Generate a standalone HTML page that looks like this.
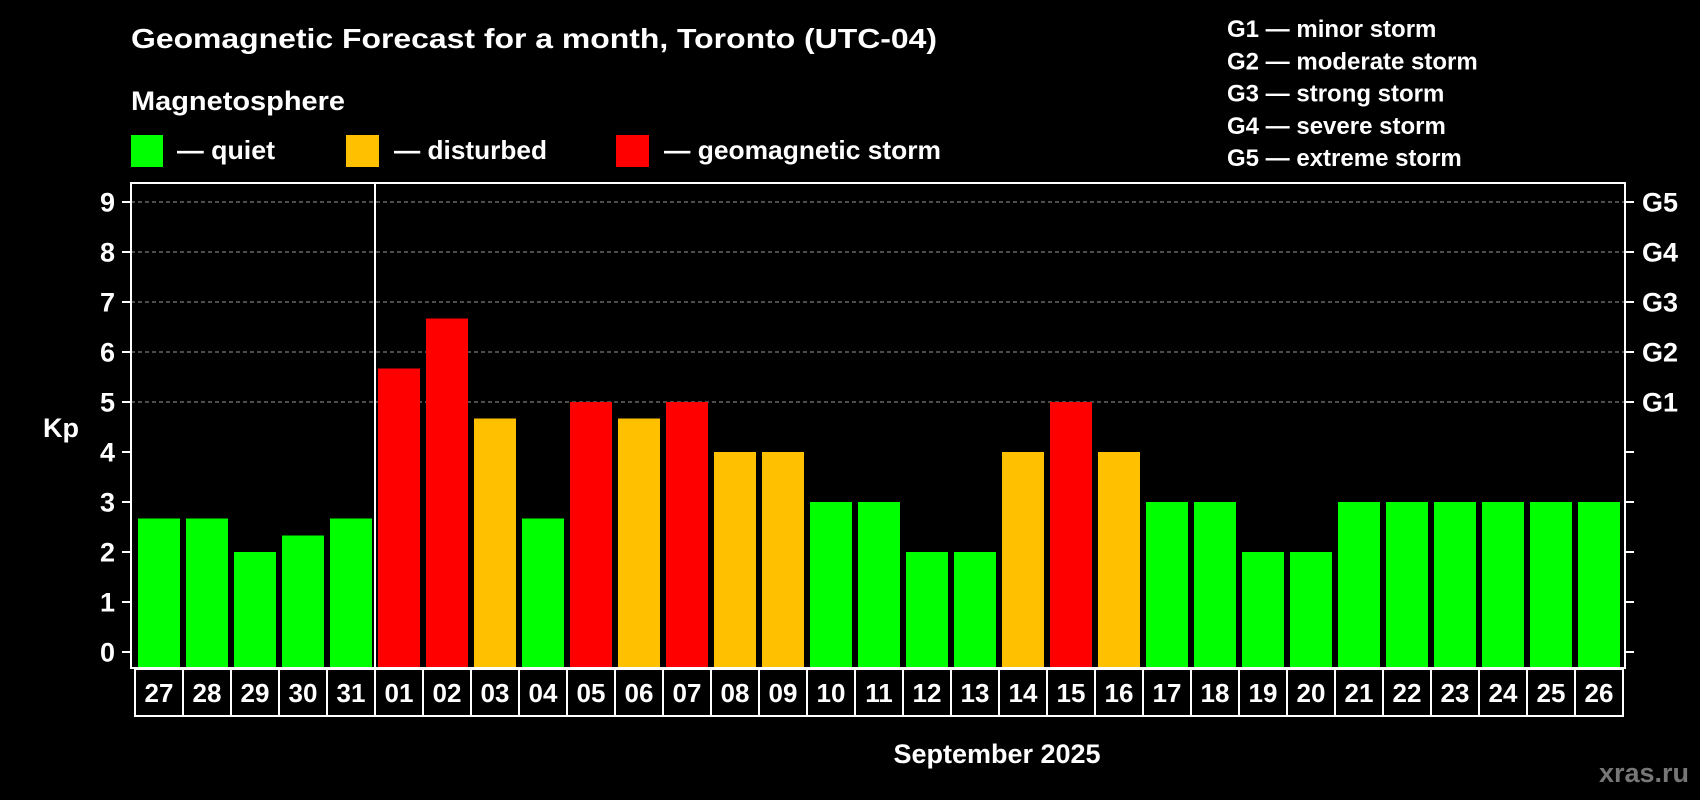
<!DOCTYPE html>
<html><head><meta charset="utf-8"><style>
html,body{margin:0;padding:0;background:#000;}
svg{display:block;font-family:"Liberation Sans",Arial,sans-serif;font-weight:bold;}
</style></head><body>
<svg id="chart" width="1700" height="800" viewBox="0 0 1700 800">
<rect width="1700" height="800" fill="#000"/>
<text x="131" y="48" fill="#fff" font-size="28" textLength="806" lengthAdjust="spacingAndGlyphs">Geomagnetic Forecast for a month, Toronto (UTC-04)</text>
<text x="131" y="110" fill="#fff" font-size="27" textLength="214" lengthAdjust="spacingAndGlyphs">Magnetosphere</text>
<g>
<rect x="131" y="135" width="32" height="32" fill="#00ff00"/>
<text x="177" y="159" fill="#fff" font-size="26" textLength="98" lengthAdjust="spacingAndGlyphs">— quiet</text></g>
<g>
<rect x="346" y="135" width="33" height="32" fill="#ffc000"/>
<text x="394" y="159" fill="#fff" font-size="26" textLength="153" lengthAdjust="spacingAndGlyphs">— disturbed</text></g>
<g>
<rect x="616" y="135" width="33" height="32" fill="#ff0000"/>
<text x="664" y="159" fill="#fff" font-size="26" textLength="277" lengthAdjust="spacingAndGlyphs">— geomagnetic storm</text></g>
<g id="glegend"></g>
<g id="plot"></g>
<text x="43" y="437" fill="#fff" font-size="27">Kp</text>
<text x="997" y="763" fill="#fff" font-size="27" text-anchor="middle">September 2025</text>
<text x="1689" y="782" fill="#777" font-size="27" text-anchor="end">xras.ru</text>
</svg>
<script>
const days = ["27","28","29","30","31","01","02","03","04","05","06","07","08","09","10","11","12","13","14","15","16","17","18","19","20","21","22","23","24","25","26"];
const kpValues = [2.67,2.67,2,2.33,2.67,5.67,6.67,4.67,2.67,5,4.67,5,4,4,3,3,2,2,4,5,4,3,3,2,2,3,3,3,3,3,3];
const yTicks = [0,1,2,3,4,5,6,7,8,9];
const gLevels = ["G1","G2","G3","G4","G5"];
const gNames = ["minor storm","moderate storm","strong storm","severe storm","extreme storm"];
const monthBreak = 5;

const NS = "http://www.w3.org/2000/svg";
const L = 131, R = 1625, T = 183, B = 668, pitch = 48, bw = 42;
function y(v){ return 652 - 50 * v; }
function x(i){ return 138 + pitch * i; }
function mk(tag, attrs, parent){ const e = document.createElementNS(NS, tag); for (const k in attrs) e.setAttribute(k, attrs[k]); parent.appendChild(e); return e; }
const plot = document.getElementById('plot');
const gl = document.getElementById('glegend');

gNames.forEach((n, i) => {
  const t = mk('text', {x:1227, y:37 + 32.3*i, fill:'#fff', 'font-size':24}, gl);
  
  
  t.textContent = gLevels[i] + " — " + n;
});

// gridlines
yTicks.forEach(v => {
  if (v >= 5) {
    const g = mk('line', {x1:L, x2:R, y1:y(v), y2:y(v), stroke:'#999', 'stroke-width':1, 'stroke-dasharray':'4,3'}, plot);
    
    
  }
  const tk = mk('line', {x1:122, x2:L, y1:y(v), y2:y(v), stroke:'#fff', 'stroke-width':2}, plot);
  
  
  const tr = mk('line', {x1:R, x2:1634, y1:y(v), y2:y(v), stroke:'#fff', 'stroke-width':2}, plot);
  
  
  const lb = mk('text', {x:115, y:y(v)+9.5, fill:'#fff', 'font-size':27, 'text-anchor':'end'}, plot);
  
  
  lb.textContent = v;
  if (v >= 5) {
    const gt = mk('text', {x:1642, y:y(v)+9.5, fill:'#fff', 'font-size':27}, plot);
    
    
    gt.textContent = gLevels[v-5];
  }
});

kpValues.forEach((v, i) => {
  const col = v >= 5 ? '#ff0000' : (v >= 4 ? '#ffc000' : '#00ff00');
  const b = mk('rect', {x:x(i), y:y(v), width:bw, height:667 - y(v), fill:col}, plot);
  
  
  const bx = mk('rect', {x:x(i)-3, y:669, width:pitch, height:47, fill:'none', stroke:'#fff', 'stroke-width':2}, plot);
  
  
  const t = mk('text', {x:x(i)+bw/2, y:702, fill:'#fff', 'font-size':26, 'text-anchor':'middle'}, plot);
  
  
  t.textContent = days[i];
});

const fr = mk('rect', {x:L, y:T, width:R-L, height:B-T, fill:'none', stroke:'#fff', 'stroke-width':2}, plot);


const dv = mk('line', {x1:x(monthBreak)-3, x2:x(monthBreak)-3, y1:T, y2:B, stroke:'#fff', 'stroke-width':2}, plot);


</script>
</body></html>
